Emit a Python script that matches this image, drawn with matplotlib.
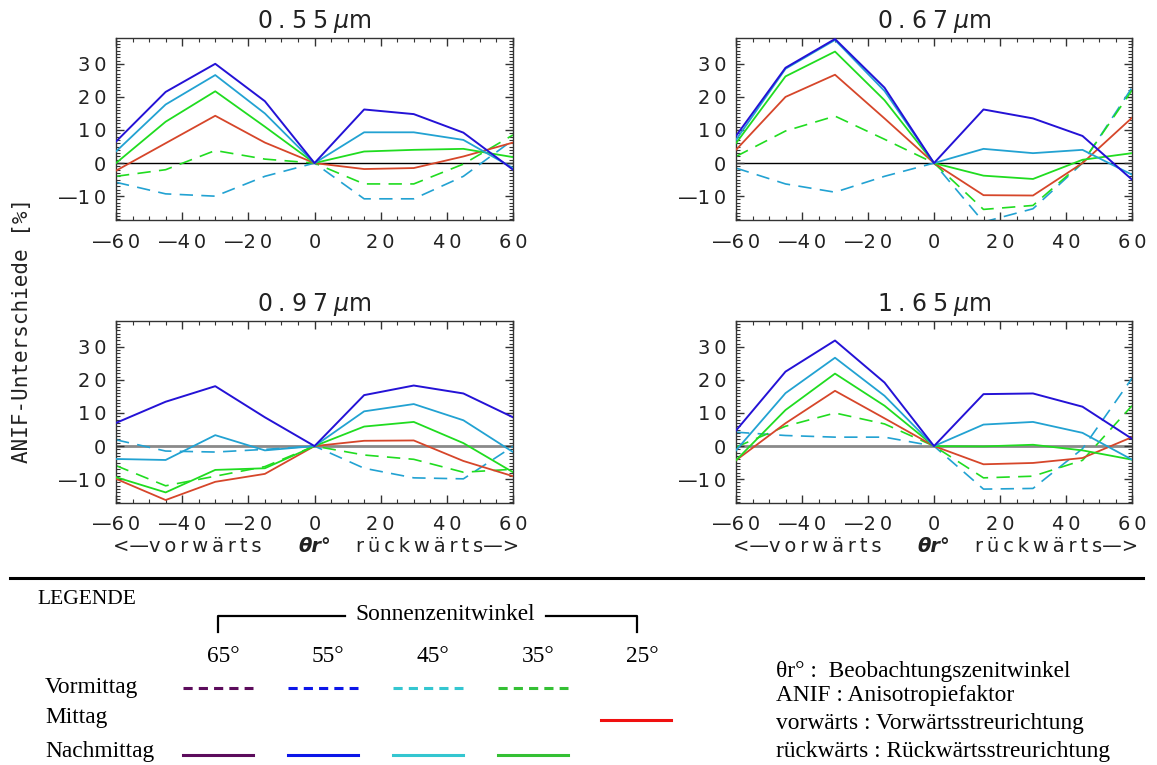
import matplotlib
matplotlib.use("Agg")
import matplotlib.pyplot as plt
from matplotlib.ticker import MultipleLocator, FuncFormatter
import matplotlib.transforms as mtransforms

# ---------------- data ----------------
theta = [-60, -45, -30, -15, 0, 15, 30, 45, 60]
titles = ["0.55", "0.67", "0.97", "1.65"]

# Nachmittag (solid): 55°, 45°, 35° ; Mittag 25° (red) ; Vormittag (dashed): 45°, 35°
blue_solid = [
    [6.5, 21.5, 30.0, 18.7, 0, 16.2, 14.8, 9.2, -2.0],
    [8.2, 28.8, 37.5, 22.8, 0, 16.2, 13.5, 8.2, -5.0],
    [7.0, 13.4, 18.1, 8.7, 0, 15.4, 18.3, 15.9, 8.7],
    [4.7, 22.5, 31.9, 19.2, 0, 15.7, 15.9, 11.9, 2.2],
]
cyan_solid = [
    [3.5, 17.7, 26.6, 15.0, 0, 9.3, 9.3, 7.0, -1.5],
    [7.0, 28.5, 37.2, 21.8, 0, 4.3, 3.0, 4.0, -3.5],
    [-3.9, -4.2, 3.3, -1.3, 0, 10.5, 12.7, 7.8, -1.8],
    [-1.3, 16.0, 26.7, 15.2, 0, 6.5, 7.3, 4.0, -4.1],
]
green_solid = [
    [0.0, 12.5, 21.7, 11.0, 0, 3.5, 4.0, 4.3, 1.8],
    [6.0, 26.2, 33.7, 19.0, 0, -3.8, -4.8, 1.0, 3.0],
    [-9.4, -14.0, -7.2, -6.7, 0, 5.9, 7.3, 0.9, -7.9],
    [-4.3, 10.9, 21.9, 12.2, 0, -0.1, 0.4, -1.3, -4.1],
]
red_solid = [
    [-2.3, 6.0, 14.3, 6.2, 0, -1.8, -1.5, 2.0, 6.2],
    [4.0, 20.0, 26.7, 13.5, 0, -9.7, -9.8, 0.0, 13.7],
    [-9.9, -16.3, -10.8, -8.4, 0, 1.6, 1.7, -4.5, -9.1],
    [-4.3, 6.9, 16.7, 8.4, 0, -5.5, -5.1, -3.6, 2.7],
]
green_dashed = [
    [-4.0, -2.0, 3.8, 1.2, 0, -6.3, -6.3, -0.3, 8.5],
    [2.0, 9.7, 14.2, 7.2, 0, -14.0, -12.8, 0.2, 22.0],
    [-5.9, -12.0, -9.1, -6.2, 0, -2.7, -4.0, -7.9, -7.0],
    [-0.3, 6.0, 10.0, 6.7, 0, -9.6, -9.1, -4.3, 12.2],
]
cyan_dashed = [
    [-5.8, -9.3, -10.0, -4.0, 0, -10.8, -10.8, -4.0, 7.0],
    [-1.5, -6.3, -8.8, -4.0, 0, -17.8, -13.8, 0.0, 22.8],
    [1.9, -1.5, -1.8, -1.0, 0, -6.7, -9.6, -9.9, -0.1],
    [4.2, 3.2, 2.7, 2.7, 0, -13.0, -12.8, -0.8, 20.5],
]

xticks = [-60, -40, -20, 0, 20, 40, 60]
yticks = [-10, 0, 10, 20, 30]

legend_angles = ["65°", "55°", "45°", "35°", "25°"]
legend_rows = ["Vormittag", "Mittag", "Nachmittag"]
legend_notes = ["θr° :  Beobachtungszenitwinkel",
                "ANIF : Anisotropiefaktor",
                "vorwärts : Vorwärtsstreurichtung",
                "rückwärts : Rückwärtsstreurichtung"]

# ---------------- styling ----------------
C_BLUE = "#2412d6"
C_CYAN = "#22a2d2"
C_GREEN = "#20dc20"
C_RED = "#d6462a"
L_PURPLE = "#5c0c5c"
L_BLUE = "#0c16e8"
L_CYAN = "#34c6d0"
L_GREEN = "#34c034"
L_RED = "#f01010"

W, H = 1157, 765
fig = plt.figure(figsize=(W / 100, H / 100), dpi=100)


def spaced(s, sep="\u2009"):
    return sep.join(s)


def fmt(v, pos):
    v = int(round(v))
    s = str(abs(v))
    if v < 0:
        return "\u2014" + spaced(s)
    return spaced(s)


rects = [
    (116, 38, 397, 182),
    (736, 38, 396, 182),
    (116, 321, 397, 182),
    (736, 321, 396, 182),
]

dash = (0, (8, 5))
for i, (l, t, w, h) in enumerate(rects):
    ax = fig.add_axes([l / W, 1 - (t + h) / H, w / W, h / H])
    ax.set_xlim(-60, 60)
    ax.set_ylim(-17.2, 37.8)
    if i < 2:
        ax.axhline(0, color="black", lw=1.0, zorder=1)
    else:
        ax.axhline(0, color="#8a8a8a", lw=2.0, zorder=1)
    ax.plot(theta, cyan_dashed[i], color=C_CYAN, lw=1.2, linestyle=dash, zorder=2)
    ax.plot(theta, green_dashed[i], color=C_GREEN, lw=1.2, linestyle=dash, zorder=2)
    ax.plot(theta, red_solid[i], color=C_RED, lw=1.3, zorder=3)
    ax.plot(theta, green_solid[i], color=C_GREEN, lw=1.3, zorder=3)
    ax.plot(theta, cyan_solid[i], color=C_CYAN, lw=1.3, zorder=3)
    ax.plot(theta, blue_solid[i], color=C_BLUE, lw=1.4, zorder=4)

    ax.set_xticks(xticks)
    ax.set_yticks(yticks)
    ax.xaxis.set_minor_locator(MultipleLocator(5))
    ax.yaxis.set_minor_locator(MultipleLocator(1))
    ax.xaxis.set_major_formatter(FuncFormatter(fmt))
    ax.yaxis.set_major_formatter(FuncFormatter(fmt))
    ax.tick_params(which="both", direction="in", top=True, right=True,
                   colors="#333333", labelcolor="#222222")
    ax.tick_params(which="major", length=6, width=1.0, labelsize=14)
    ax.tick_params(axis="x", which="major", pad=9)
    ax.tick_params(axis="y", which="major", pad=7)
    ax.tick_params(which="minor", length=3, width=0.8)
    for sp in ax.spines.values():
        sp.set_color("#333333")
        sp.set_linewidth(1.0)
    ax.set_title(spaced(titles[i], "\u2005") + "\u2005" + r"$\mu$" + "m",
                 fontsize=17, pad=7, color="#222222")
    if i >= 2:
        tr = mtransforms.blended_transform_factory(ax.transData, fig.transFigure)
        yb = 1 - 546 / H
        ax.text(-61, yb, "<\u2014" + spaced("vorwärts"), transform=tr, fontsize=14,
                ha="left", va="center", color="#222222")
        ax.text(0, yb, "θr°", transform=tr, fontsize=14, ha="center", va="center",
                color="#222222", fontweight="bold", fontstyle="italic")
        ax.text(62, yb, spaced("rückwärts") + "\u2014>", transform=tr, fontsize=14,
                ha="right", va="center", color="#222222")

fig.text(22 / W, 1 - 330 / H, "ANIF-Unterschiede [%]", rotation=90,
         family="DejaVu Sans Mono", fontsize=15, ha="center", va="center",
         color="#222222")

# ---------------- legend area (pixel overlay) ----------------
ov = fig.add_axes([0, 0, 1, 1])
ov.set_xlim(0, W)
ov.set_ylim(H, 0)
ov.axis("off")
ov.patch.set_alpha(0)

serif = "Liberation Serif"
FS = 16.8
ov.plot([10, 1143], [578, 578], color="black", lw=2.2)
ov.text(37, 600, "LEGENDE", family=serif, fontsize=15.5, ha="left", va="center")
ov.plot([218, 218, 345], [632, 616, 616], color="black", lw=1.6)
ov.plot([546, 637, 637], [616, 616, 632], color="black", lw=1.6)
ov.text(445, 614, "Sonnenzenitwinkel", family=serif, fontsize=FS, ha="center", va="center")

xs = [218, 323, 428, 533, 637]
for x, lab in zip(xs, legend_angles):
    ov.text(x + 5, 657, lab, family=serif, fontsize=FS, ha="center", va="center")

row_y = [687, 718, 752]
for y, lab in zip(row_y, legend_rows):
    ov.text(45, y, lab, family=serif, fontsize=FS, ha="left", va="center")

dcols = [L_PURPLE, L_BLUE, L_CYAN, L_GREEN]
for x, c in zip(xs[:4], dcols):
    ov.plot([x - 35, x + 35], [688, 688], color=c, lw=2.2, linestyle=(0, (3, 2)))
    ov.plot([x - 35, x + 35], [755, 755], color=c, lw=2.2)
ov.plot([xs[4] - 36, xs[4] + 34], [720, 720], color=L_RED, lw=2.2)

note_y = [672, 696, 724, 752]
for y, lab in zip(note_y, legend_notes):
    ov.text(776, y, lab, family=serif, fontsize=FS, ha="left", va="center")

fig.savefig("out.png", dpi=100)
